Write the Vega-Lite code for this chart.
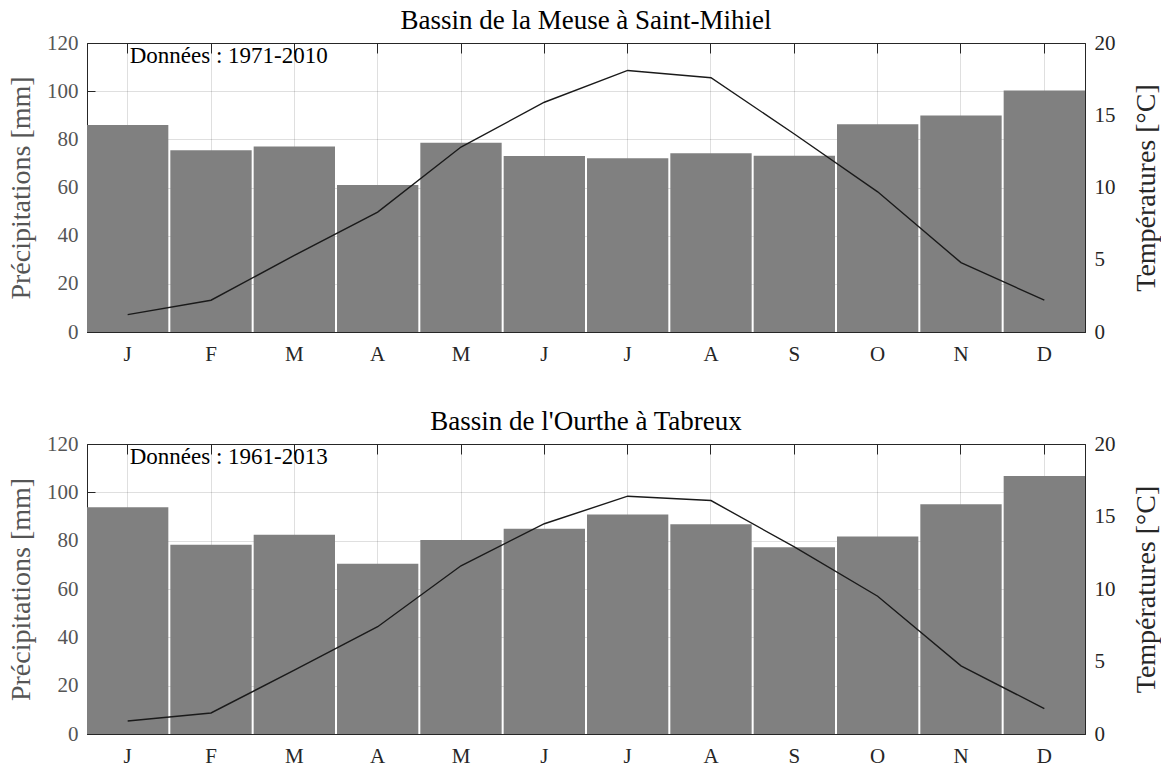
{
  "$schema": "https://vega.github.io/schema/vega-lite/v6.json",
  "padding": {"left": 7, "top": 6, "right": 0, "bottom": 2},
  "background": "white",
  "datasets": {
    "meuse": [
      {"mois": "Janvier", "precipitations": 86.0, "temperatures": 1.2},
      {"mois": "Février", "precipitations": 75.5, "temperatures": 2.2},
      {"mois": "Mars", "precipitations": 77.0, "temperatures": 5.3},
      {"mois": "Avril", "precipitations": 61.0, "temperatures": 8.3},
      {"mois": "Mai", "precipitations": 78.6, "temperatures": 12.8},
      {"mois": "Juin", "precipitations": 73.1, "temperatures": 15.9},
      {"mois": "Juillet", "precipitations": 72.1, "temperatures": 18.1},
      {"mois": "Août", "precipitations": 74.2, "temperatures": 17.6},
      {"mois": "Septembre", "precipitations": 73.2, "temperatures": 13.7},
      {"mois": "Octobre", "precipitations": 86.3, "temperatures": 9.7},
      {"mois": "Novembre", "precipitations": 89.9, "temperatures": 4.8},
      {"mois": "Décembre", "precipitations": 100.3, "temperatures": 2.2}
    ],
    "ourthe": [
      {"mois": "Janvier", "precipitations": 93.8, "temperatures": 0.9},
      {"mois": "Février", "precipitations": 78.3, "temperatures": 1.45},
      {"mois": "Mars", "precipitations": 82.4, "temperatures": 4.4},
      {"mois": "Avril", "precipitations": 70.4, "temperatures": 7.4},
      {"mois": "Mai", "precipitations": 80.3, "temperatures": 11.6},
      {"mois": "Juin", "precipitations": 84.9, "temperatures": 14.5},
      {"mois": "Juillet", "precipitations": 90.8, "temperatures": 16.4},
      {"mois": "Août", "precipitations": 86.8, "temperatures": 16.1},
      {"mois": "Septembre", "precipitations": 77.3, "temperatures": 12.9},
      {"mois": "Octobre", "precipitations": 81.7, "temperatures": 9.5},
      {"mois": "Novembre", "precipitations": 95.1, "temperatures": 4.7},
      {"mois": "Décembre", "precipitations": 106.8, "temperatures": 1.75}
    ],
    "notes": [
      {"bassin": "Meuse", "texte": "Données : 1971-2010"},
      {"bassin": "Ourthe", "texte": "Données : 1961-2013"}
    ]
  },
  "config": {
    "font": "Times New Roman, Liberation Serif, serif",
    "view": {"stroke": "#262626", "strokeWidth": 1},
    "axis": {
      "zindex": 1,
      "domainColor": "#262626",
      "tickColor": "#262626",
      "gridColor": "#262626",
      "gridOpacity": 0.15,
      "labelFont": "Times New Roman, Liberation Serif, serif",
      "labelFontSize": 21,
      "titleFont": "Times New Roman, Liberation Serif, serif",
      "titleFontSize": 28,
      "titleFontWeight": "normal",
      "labelColor": "#262626",
      "titleColor": "#262626"
    },
    "title": {"font": "Times New Roman, Liberation Serif, serif", "fontSize": 27, "fontWeight": "normal", "color": "#000000", "offset": -3}
  },
  "spacing": 42,
  "vconcat": [
    {
      "title": "Bassin de la Meuse à Saint-Mihiel",
      "width": 998,
      "height": 289,
      "data": {"name": "meuse"},
      "resolve": {"scale": {"x": "independent", "y": "independent"}},
      "layer": [
        {
          "layer": [
            {
              "mark": {"type": "bar", "color": "#808080"},
              "encoding": {
                "x": {"field": "mois", "type": "ordinal",
                  "scale": {"domain": ["Janvier","Février","Mars","Avril","Mai","Juin","Juillet","Août","Septembre","Octobre","Novembre","Décembre"], "paddingInner": 0.024, "paddingOuter": 0},
                  "axis": {"orient": "bottom", "title": null, "labelExpr": "substring(datum.label,0,1)", "labelAngle": 0, "grid": true, "bandPosition": 0.5, "tickSize": -10, "labelPadding": 21}},
                "y": {"field": "precipitations", "type": "quantitative",
                  "scale": {"domain": [0, 120], "nice": false},
                  "axis": {"orient": "left", "values": [0,20,40,60,80,100,120], "title": "Précipitations [mm]", "grid": true, "tickSize": -8, "labelPadding": 17, "titlePadding": 11, "labelColor": "#555555", "titleColor": "#555555"}}
              }
            },
            {
              "data": {"name": "notes"},
              "transform": [{"filter": "datum.bassin == 'Meuse'"}],
              "mark": {"type": "text", "align": "left", "baseline": "top", "font": "Times New Roman, Liberation Serif, serif", "fontSize": 23, "dx": 2, "dy": 2, "color": "#000000"},
              "encoding": {
                "x": {"datum": "Janvier", "type": "ordinal"},
                "y": {"datum": 120, "type": "quantitative"},
                "text": {"field": "texte"}
              }
            }
          ]
        },
        {
          "mark": {"type": "line", "color": "#1a1a1a", "strokeWidth": 1.4},
          "encoding": {
            "x": {"field": "mois", "type": "ordinal",
              "scale": {"type": "band", "domain": ["Janvier","Février","Mars","Avril","Mai","Juin","Juillet","Août","Septembre","Octobre","Novembre","Décembre"], "paddingInner": 0.024, "paddingOuter": 0},
              "axis": {"orient": "top", "labels": false, "title": null, "grid": false, "domain": false, "bandPosition": 0.5, "tickSize": -10, "labelPadding": 0}},
            "y": {"field": "temperatures", "type": "quantitative",
              "scale": {"domain": [0, 20], "nice": false},
              "axis": {"orient": "right", "values": [0,5,10,15,20], "title": "Températures [°C]", "titleAngle": 270, "titleBaseline": "top", "grid": false, "tickSize": -8, "labelPadding": 17, "titlePadding": 17}}
          }
        }
      ]
    },
    {
      "title": "Bassin de l'Ourthe à Tabreux",
      "width": 998,
      "height": 290,
      "data": {"name": "ourthe"},
      "resolve": {"scale": {"x": "independent", "y": "independent"}},
      "layer": [
        {
          "layer": [
            {
              "mark": {"type": "bar", "color": "#808080"},
              "encoding": {
                "x": {"field": "mois", "type": "ordinal",
                  "scale": {"domain": ["Janvier","Février","Mars","Avril","Mai","Juin","Juillet","Août","Septembre","Octobre","Novembre","Décembre"], "paddingInner": 0.024, "paddingOuter": 0},
                  "axis": {"orient": "bottom", "title": null, "labelExpr": "substring(datum.label,0,1)", "labelAngle": 0, "grid": true, "bandPosition": 0.5, "tickSize": -10, "labelPadding": 21}},
                "y": {"field": "precipitations", "type": "quantitative",
                  "scale": {"domain": [0, 120], "nice": false},
                  "axis": {"orient": "left", "values": [0,20,40,60,80,100,120], "title": "Précipitations [mm]", "grid": true, "tickSize": -8, "labelPadding": 17, "titlePadding": 11, "labelColor": "#555555", "titleColor": "#555555"}}
              }
            },
            {
              "data": {"name": "notes"},
              "transform": [{"filter": "datum.bassin == 'Ourthe'"}],
              "mark": {"type": "text", "align": "left", "baseline": "top", "font": "Times New Roman, Liberation Serif, serif", "fontSize": 23, "dx": 2, "dy": 2, "color": "#000000"},
              "encoding": {
                "x": {"datum": "Janvier", "type": "ordinal"},
                "y": {"datum": 120, "type": "quantitative"},
                "text": {"field": "texte"}
              }
            }
          ]
        },
        {
          "mark": {"type": "line", "color": "#1a1a1a", "strokeWidth": 1.4},
          "encoding": {
            "x": {"field": "mois", "type": "ordinal",
              "scale": {"type": "band", "domain": ["Janvier","Février","Mars","Avril","Mai","Juin","Juillet","Août","Septembre","Octobre","Novembre","Décembre"], "paddingInner": 0.024, "paddingOuter": 0},
              "axis": {"orient": "top", "labels": false, "title": null, "grid": false, "domain": false, "bandPosition": 0.5, "tickSize": -10, "labelPadding": 0}},
            "y": {"field": "temperatures", "type": "quantitative",
              "scale": {"domain": [0, 20], "nice": false},
              "axis": {"orient": "right", "values": [0,5,10,15,20], "title": "Températures [°C]", "titleAngle": 270, "titleBaseline": "top", "grid": false, "tickSize": -8, "labelPadding": 17, "titlePadding": 17}}
          }
        }
      ]
    }
  ]
}
